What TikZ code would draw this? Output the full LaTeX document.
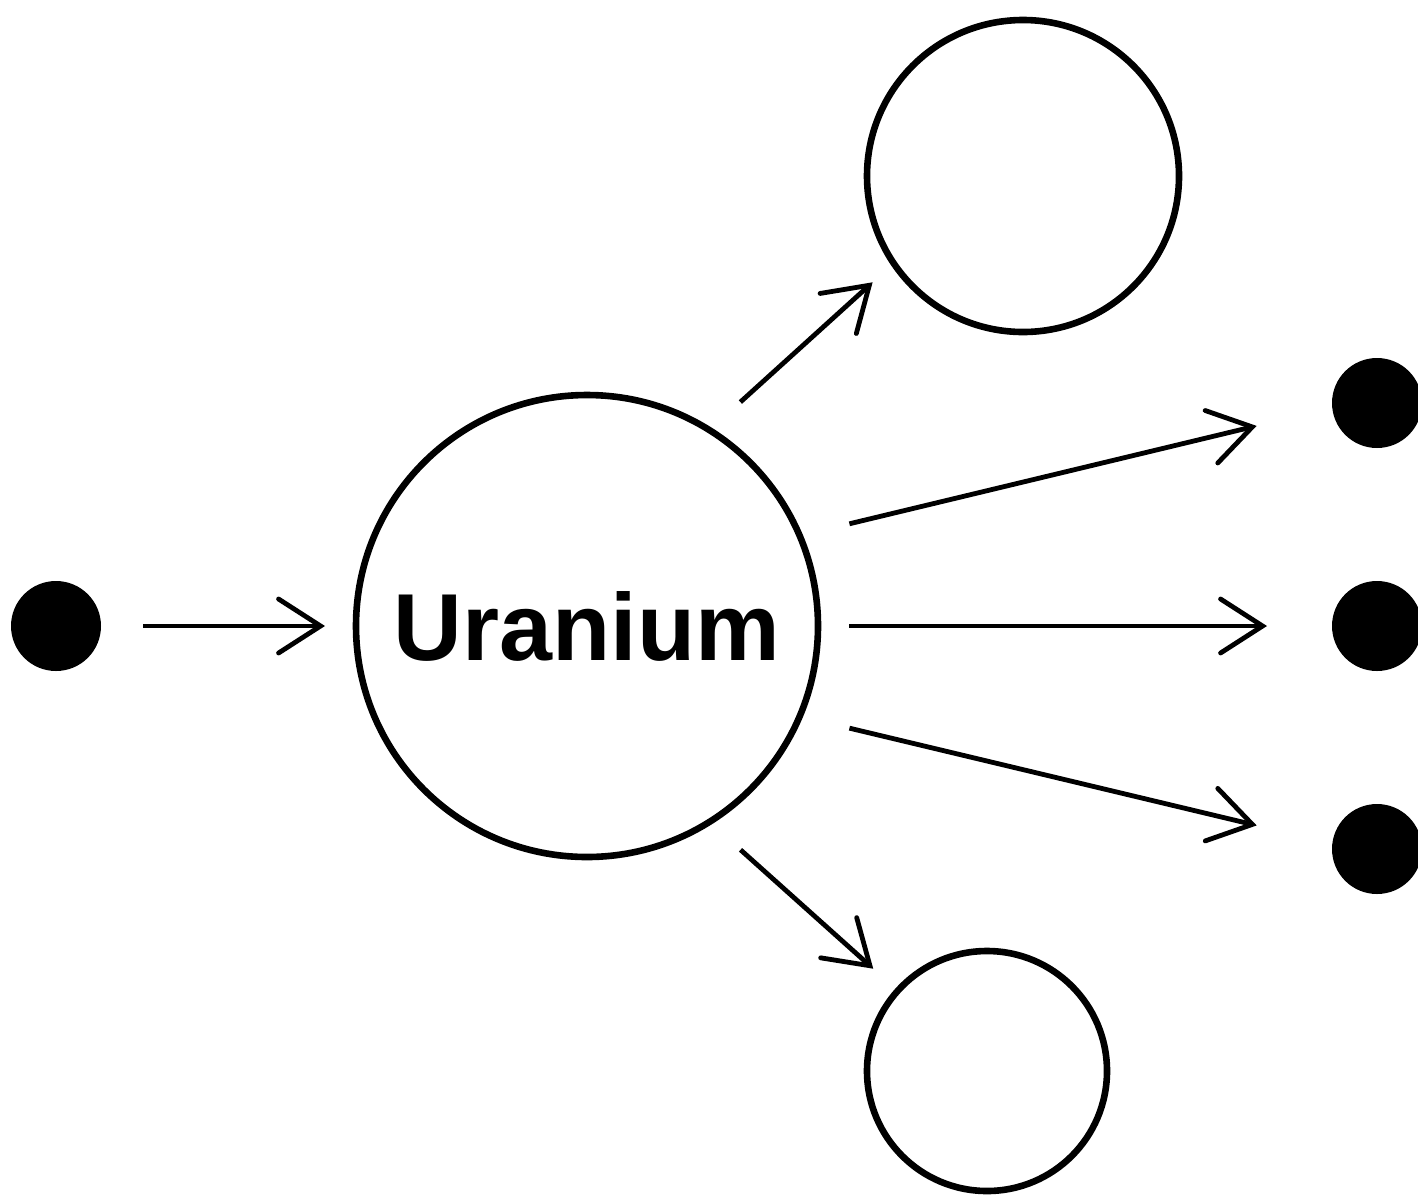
\documentclass[tikz,border=0pt]{standalone}
\usepackage{fontspec}
\setmainfont{Liberation Sans}
\usetikzlibrary{arrows.meta}
\begin{document}
\begin{tikzpicture}[x=0.5pt,y=-0.5pt,
  dot/.style={circle,fill=black,draw=none,minimum size=45pt,inner sep=0pt,outer sep=0pt},
  ring/.style={circle,draw=black,line width=3.3pt,inner sep=0pt,outer sep=0pt},
  arr/.style={line width=2.4pt,-{Straight Barb[length=21pt,width=27pt,line cap=round]}},
  lbl/.style={font=\fontsize{47.6}{48}\selectfont\bfseries}]
\useasboundingbox (0,0) rectangle (1418,1195);
\clip (0,0) rectangle (1418,1195);
\node[dot] (L) at (56,626) {};
\node[ring,minimum size=231pt,lbl] (U) at (587,626) {Uranium};
\node[ring,minimum size=156pt] (T) at (1023,176) {};
\node[ring,minimum size=120pt] (B) at (987,1071) {};
\node[dot] (D1) at (1377,403) {};
\node[dot] (D2) at (1377,626) {};
\node[dot] (D3) at (1377,849) {};
\draw[arr,shorten <=21pt,shorten >=15.5pt] (L.east) -- (U.west);
\draw[arr,shorten <=20.9pt,shorten >=14.2pt] (U.58.2) -- (T.214.4);
\draw[arr,shorten <=25.6pt,shorten >=38.9pt] (U.23.3) -- (D1.186.4);
\draw[arr,shorten <=15.5pt,shorten >=32.5pt] (U.east) -- (D2.west);
\draw[arr,shorten <=25.6pt,shorten >=38.9pt] (U.-23.3) -- (D3.173.6);
\draw[arr,shorten <=20.9pt,shorten >=16.5pt] (U.-58.2) -- (B.138.1);
\end{tikzpicture}
\end{document}
